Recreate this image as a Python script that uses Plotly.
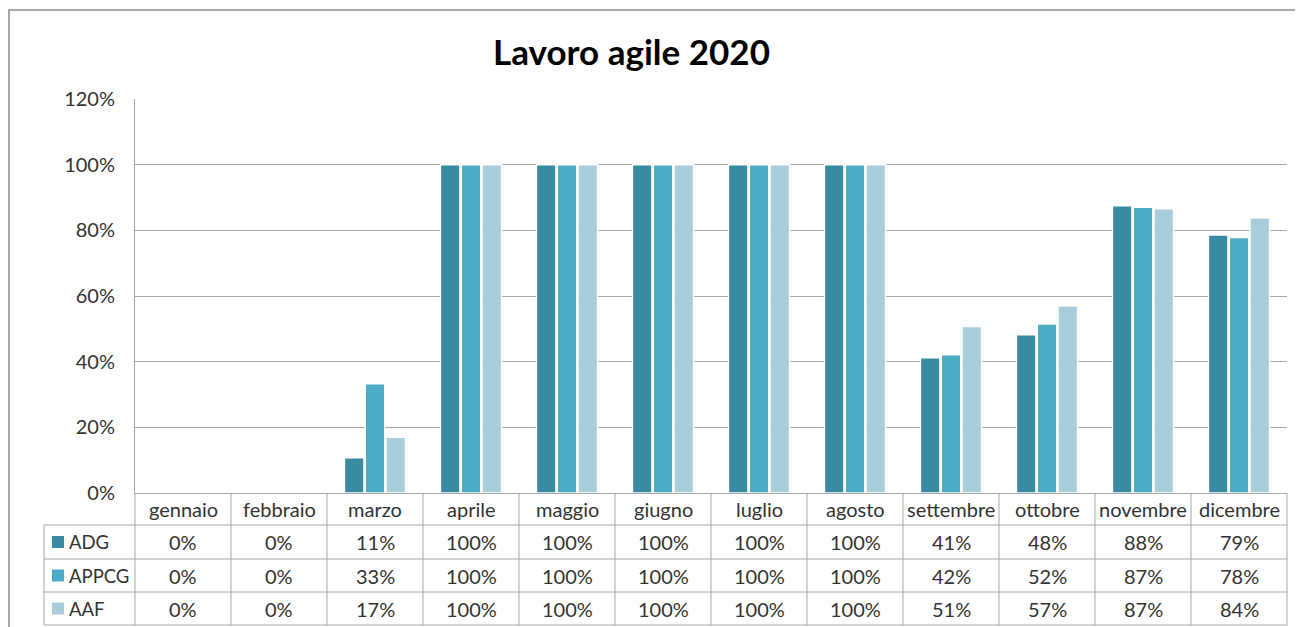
import plotly.graph_objects as go

months = ["gennaio", "febbraio", "marzo", "aprile", "maggio", "giugno",
          "luglio", "agosto", "settembre", "ottobre", "novembre", "dicembre"]
series_names = ["ADG", "APPCG", "AAF"]
adg = [0.00, 0.00, 0.107, 1.00, 1.00, 1.00, 1.00, 1.00, 0.412, 0.482, 0.875, 0.786]
appcg = [0.00, 0.00, 0.333, 1.00, 1.00, 1.00, 1.00, 1.00, 0.421, 0.515, 0.870, 0.778]
aaf = [0.00, 0.00, 0.17, 1.00, 1.00, 1.00, 1.00, 1.00, 0.507, 0.570, 0.866, 0.838]
colors = ["#388BA0", "#4BACC6", "#A8CEDC"]
title_text = "Lavoro agile 2020"

W, H = 1303, 627
OFF = 8  # page body margin offset
SL, SR, ST, SB = 135, 1287, 99, 493
L, R, T, B = SL - OFF, SR - OFF, ST - OFF, SB - OFF
PW, PH = R - L, B - T


def px(p):
    return (p - SL) / PW


def py(p):
    return (SB - p) / PH


FONT = "Lato, 'Open Sans', sans-serif"
GRID = "#A6A6A6"
TXT = "#333333"
FS = 20

fig = go.Figure()
for name, vals, col in zip(series_names, [adg, appcg, aaf], colors):
    fig.add_trace(go.Bar(x=months, y=vals, name=name, marker_color=col,
                         marker_line_color="white", marker_line_width=1.5,
                         hoverinfo="skip"))

shapes = []
annotations = []

shapes.append(dict(type="rect", xref="paper", yref="paper",
                   x0=px(9), x1=px(1300), y0=py(660), y1=py(10),
                   line=dict(color="#8C8C8C", width=1.5), fillcolor="rgba(0,0,0,0)", layer="below"))

col_w = PW / 12
row_y = [493, 525, 559, 592, 625]
for yy in row_y[1:]:
    shapes.append(dict(type="line", xref="paper", yref="paper",
                       x0=px(44), x1=px(SR), y0=py(yy), y1=py(yy),
                       line=dict(color=GRID, width=1)))
shapes.append(dict(type="line", xref="paper", yref="paper",
                   x0=px(44), x1=px(44), y0=py(525), y1=py(625),
                   line=dict(color=GRID, width=1)))
for i in range(13):
    xx = SL + i * col_w
    shapes.append(dict(type="line", xref="paper", yref="paper",
                       x0=px(xx), x1=px(xx), y0=py(493), y1=py(625),
                       line=dict(color=GRID, width=1)))

for i, m in enumerate(months):
    cx = SL + (i + 0.5) * col_w
    annotations.append(dict(x=px(cx), y=py(509), xref="paper", yref="paper",
                            text=m, showarrow=False, xanchor="center", yanchor="middle",
                            font=dict(family=FONT, size=FS, color=TXT)))

row_centers = [542, 575.5, 608.5]
for (name, vals, col), yc in zip(zip(series_names, [adg, appcg, aaf], colors), row_centers):
    shapes.append(dict(type="rect", xref="paper", yref="paper",
                       x0=px(52), x1=px(64), y0=py(yc + 6), y1=py(yc - 6),
                       fillcolor=col, line=dict(width=0)))
    annotations.append(dict(x=px(67), y=py(yc), xref="paper", yref="paper",
                            text=name, showarrow=False, xanchor="left", yanchor="middle",
                            font=dict(family=FONT, size=18.5, color=TXT)))
    for i, v in enumerate(vals):
        cx = SL + (i + 0.5) * col_w
        annotations.append(dict(x=px(cx), y=py(yc), xref="paper", yref="paper",
                                text=f"{int(v * 100 + 0.5):d}%", showarrow=False,
                                xanchor="center", yanchor="middle",
                                font=dict(family=FONT, size=FS, color=TXT)))

annotations.append(dict(x=px(631), y=py(51), xref="paper", yref="paper",
                        text=f"<b>{title_text}</b>", showarrow=False,
                        xanchor="center", yanchor="middle",
                        font=dict(family=FONT, size=35, color="#000000")))

fig.update_layout(
    width=W, height=H,
    margin=dict(l=L, r=W - R, t=T, b=H - B, pad=0),
    paper_bgcolor="white", plot_bgcolor="white",
    barmode="group", bargap=0.35, bargroupgap=0.06,
    showlegend=False,
    shapes=shapes, annotations=annotations,
    xaxis=dict(type="category", categoryorder="array", categoryarray=months,
               range=[-0.5, 11.5], showticklabels=False, showgrid=False,
               showline=True, linecolor=GRID, linewidth=1, ticks="", zeroline=False,
               fixedrange=True),
    yaxis=dict(range=[0, 1.2], dtick=0.2, tickformat=".0%", showgrid=True,
               gridcolor=GRID, gridwidth=1, showline=True, linecolor=GRID, linewidth=1,
               ticks="outside", ticklen=15, tickcolor="rgba(0,0,0,0)",
               tickfont=dict(family=FONT, size=FS, color=TXT), zeroline=False,
               fixedrange=True),
)

fig.write_html("out.html")
